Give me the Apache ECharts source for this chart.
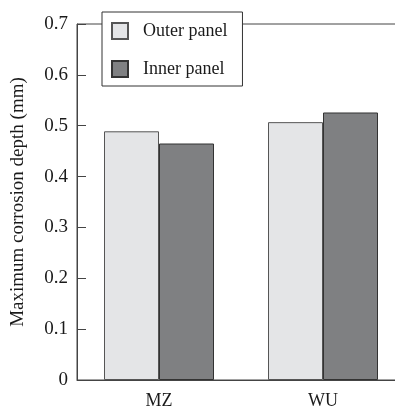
<!DOCTYPE html>
<html>
<head>
<meta charset="utf-8">
<script src="https://cdn.jsdelivr.net/npm/echarts@6/dist/echarts.min.js"></script>
<style>
  html, body { margin: 0; padding: 0; background: #fff; }
  #chart { width: 395px; height: 406px; }
</style>
</head>
<body>
<div id="chart"></div>
<script>
// corrosion depth bar chart
const categories = ['MZ', 'WU']
const outerPanel = [0.489, 0.507]
const innerPanel = [0.465, 0.526]
const seriesNames = ['Outer panel', 'Inner panel']

const chart = echarts.init(document.getElementById('chart'))
const serif = '"Liberation Serif", "DejaVu Serif", serif'

const option = {
  animation: false,
  textStyle: { fontFamily: serif },
  // grid runs past the right edge so only the top/left border shows
  grid: {
    left: 77, top: 24, width: 328, height: 356,
    outerBoundsMode: 'none',
    containLabel: false,
    show: true, borderColor: '#444', borderWidth: 1, backgroundColor: 'transparent'
  },
  legend: {
    data: seriesNames,
    icon: 'rect',
    orient: 'vertical',
    left: 102, top: 12,
    padding: [10, 15, 8, 9],
    itemGap: 20,
    itemWidth: 16, itemHeight: 16,
    backgroundColor: '#fff',
    borderColor: '#333', borderWidth: 1,
    textStyle: { fontFamily: serif, fontSize: 18, color: '#1a1a1a', padding: [0, 0, 0, 10] }
  },
  xAxis: {
    type: 'category',
    data: categories,
    axisLine: { lineStyle: { color: '#444', width: 1 } },
    axisTick: { inside: true, length: 7, lineStyle: { color: '#444' } },
    axisLabel: { fontFamily: serif, fontSize: 18, color: '#1a1a1a', margin: 12 }
  },
  yAxis: {
    type: 'value',
    min: 0, max: 0.7, interval: 0.1,
    name: 'Maximum corrosion depth (mm)',
    nameLocation: 'middle',
    nameGap: 49,
    nameTextStyle: { fontFamily: serif, fontSize: 19, color: '#1a1a1a' },
    axisLine: { show: true, lineStyle: { color: '#444', width: 1 } },
    axisTick: { show: true, inside: true, length: 9, lineStyle: { color: '#444' } },
    axisLabel: {
      fontFamily: serif, fontSize: 19, color: '#1a1a1a', margin: 9,
      formatter: v => (v === 0 ? '0' : v.toFixed(1))
    },
    splitLine: { show: false }
  },
  series: [
    {
      name: seriesNames[0],
      type: 'bar',
      data: outerPanel,
      barWidth: 55,
      barGap: '0%',
      itemStyle: { color: '#e4e5e7', borderColor: '#555', borderWidth: 1 }
    },
    {
      name: seriesNames[1],
      type: 'bar',
      data: innerPanel,
      barWidth: 55,
      itemStyle: { color: '#7f8082', borderColor: '#333', borderWidth: 1 }
    }
  ]
}

chart.setOption(option)
</script>
</body>
</html>
